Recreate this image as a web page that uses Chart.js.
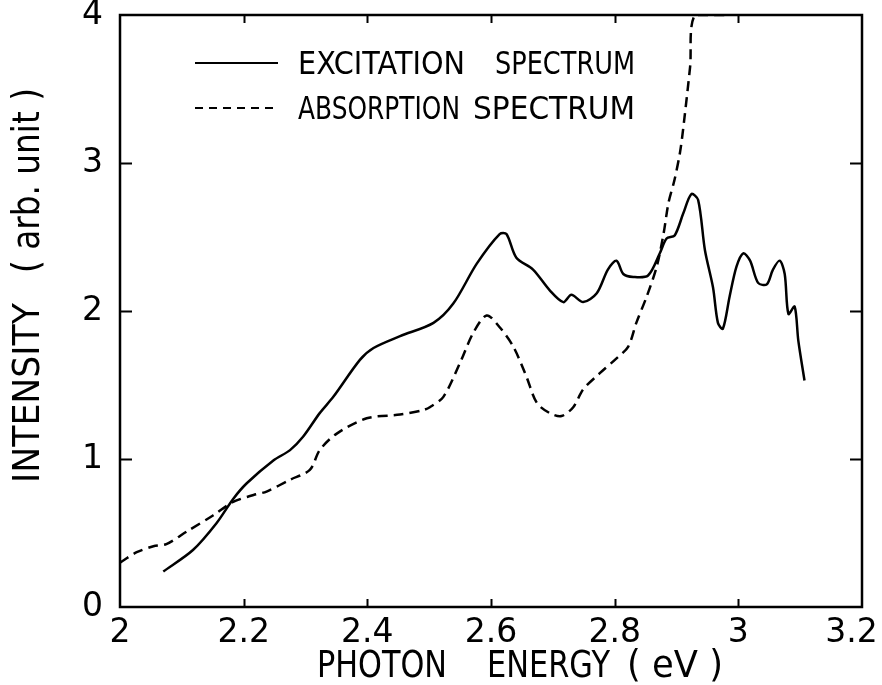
<!DOCTYPE html>
<html>
<head>
<meta charset="utf-8">
<script src="https://cdn.jsdelivr.net/npm/chart.js@4.4.1/dist/chart.umd.min.js"></script>
<style>
html,body{margin:0;padding:0;background:#fff;}
#wrap{width:882px;height:685px;position:relative;}
</style>
</head>
<body>
<div id="wrap"><canvas id="c"></canvas></div>
<script>
// ---- data ----
const excitationE = [2.070, 2.118, 2.156, 2.183, 2.205, 2.248, 2.275, 2.296, 2.323, 2.345, 2.388, 2.410, 2.453, 2.507, 2.539, 2.577, 2.614, 2.625, 2.641, 2.668, 2.695, 2.717, 2.730, 2.749, 2.771, 2.789, 2.803, 2.814, 2.830, 2.854, 2.873, 2.884, 2.897, 2.911, 2.924, 2.935, 2.946, 2.959, 2.967, 2.975, 2.986, 2.997, 3.008, 3.019, 3.032, 3.046, 3.056, 3.067, 3.075, 3.081, 3.091, 3.097, 3.107];
const excitationI = [0.24, 0.385, 0.566, 0.73, 0.836, 0.99, 1.06, 1.15, 1.31, 1.42, 1.67, 1.75, 1.83, 1.92, 2.05, 2.32, 2.52, 2.52, 2.36, 2.28, 2.14, 2.06, 2.11, 2.06, 2.12, 2.28, 2.34, 2.25, 2.23, 2.24, 2.39, 2.49, 2.51, 2.66, 2.79, 2.75, 2.41, 2.16, 1.92, 1.88, 2.10, 2.30, 2.39, 2.34, 2.19, 2.18, 2.28, 2.34, 2.25, 1.98, 2.03, 1.80, 1.53];

const absorptionE = [2.000, 2.027, 2.054, 2.075, 2.108, 2.151, 2.183, 2.216, 2.237, 2.275, 2.307, 2.323, 2.350, 2.399, 2.453, 2.490, 2.501, 2.523, 2.550, 2.571, 2.593, 2.614, 2.636, 2.657, 2.674, 2.695, 2.714, 2.733, 2.749, 2.776, 2.803, 2.822, 2.835, 2.852, 2.868, 2.879, 2.887, 2.897, 2.906, 2.913, 2.922, 2.930, 2.980];
const absorptionI = [0.30, 0.37, 0.41, 0.425, 0.51, 0.62, 0.71, 0.757, 0.78, 0.86, 0.926, 1.06, 1.17, 1.275, 1.30, 1.33, 1.35, 1.42, 1.65, 1.85, 1.97, 1.89, 1.76, 1.56, 1.38, 1.31, 1.29, 1.35, 1.47, 1.58, 1.68, 1.76, 1.92, 2.10, 2.30, 2.52, 2.73, 2.89, 3.08, 3.31, 3.65, 4.0, 4.0];

const seriesLabels = ["EXCITATION SPECTRUM", "ABSORPTION SPECTRUM"];
const xTitle = "PHOTON ENERGY ( eV )";
const yTitle = "INTENSITY ( arb. unit )";
const xMin = 2, xMax = 3.2, xStep = 0.2;
const yMin = 0, yMax = 4, yStep = 1;

const FONT = '"DejaVu Sans", Arial, sans-serif';

function pts(xs, ys){ return xs.map((x,i)=>({x:x, y:ys[i]})); }

// draw a line of text as words, each word fitted into its own span
function drawSpans(ctx, words, spans, y){
  words.forEach((w, i) => {
    const s = spans[i];
    if (!s) return;
    ctx.fillText(w, (s[0] + s[1]) / 2, y, s[1] - s[0]);
  });
}

const framePlugin = {
  id: 'frame',
  afterDraw(chart){
    const ctx = chart.ctx, a = chart.chartArea;
    const xs = chart.scales.x, ys = chart.scales.y;
    ctx.save();
    ctx.strokeStyle = '#000';
    ctx.lineWidth = 2.5;
    ctx.strokeRect(a.left, a.top, a.right - a.left, a.bottom - a.top);
    ctx.lineWidth = 2;
    ctx.beginPath();
    xs.ticks.forEach(t => {
      if (t.value <= xMin + 1e-6 || t.value >= xMax - 1e-6) return;
      const px = Math.round(xs.getPixelForValue(t.value)) + 0.5;
      ctx.moveTo(px, a.bottom); ctx.lineTo(px, a.bottom - 8);
      ctx.moveTo(px, a.top); ctx.lineTo(px, a.top + 8);
    });
    ys.ticks.forEach(t => {
      if (t.value <= yMin + 1e-6 || t.value >= yMax - 1e-6) return;
      const py = Math.round(ys.getPixelForValue(t.value)) + 0.5;
      ctx.moveTo(a.left, py); ctx.lineTo(a.left + 12, py);
      ctx.moveTo(a.right, py); ctx.lineTo(a.right - 12, py);
    });
    ctx.stroke();

    // legend
    ctx.fillStyle = '#000';
    ctx.font = '32px ' + FONT;
    ctx.textBaseline = 'middle';
    ctx.textAlign = 'center';
    const rows = [
      {y:65, dash:[], spans:[[298,465],[495,635]]},
      {y:110, dash:[8,6], spans:[[298,460],[473,635]]}
    ];
    chart.data.datasets.forEach((ds, i) => {
      const r = rows[i];
      ctx.setLineDash(r.dash);
      ctx.lineWidth = 2.2;
      ctx.beginPath();
      ctx.moveTo(195, r.y - 2); ctx.lineTo(278, r.y - 2);
      ctx.stroke();
      ctx.setLineDash([]);
      drawSpans(ctx, ds.label.split(' '), r.spans, r.y + 1);
    });

    // axis titles
    ctx.font = '37px ' + FONT;
    const xw = xTitle.split(' ');
    drawSpans(ctx, [xw[0], xw[1], xw.slice(2).join(' ')],
              [[317,447],[487,610],[627,723]], 667);
    ctx.save();
    ctx.translate(29, 685);
    ctx.rotate(-Math.PI/2);
    const yw = yTitle.split(' ');
    drawSpans(ctx, [yw[0], yw.slice(1).join(' ')],
              [[685-483, 685-303],[685-273, 685-88]], 0);
    ctx.restore();
    ctx.restore();
  }
};

new Chart(document.getElementById('c'), {
  type: 'line',
  data: {
    datasets: [
      { label: seriesLabels[0], data: pts(excitationE, excitationI),
        borderColor:'#000', borderWidth:2.5, pointRadius:0, tension:0.3, fill:false },
      { label: seriesLabels[1], data: pts(absorptionE, absorptionI),
        borderColor:'#000', borderWidth:2.5, borderDash:[10,6], pointRadius:0, tension:0.3, fill:false }
    ]
  },
  options: {
    responsive: true,
    maintainAspectRatio: false,
    animation: false,
    events: [],
    layout: { padding: { top: 15, right: 20, left: 0, bottom: 0 } },
    plugins: { legend: { display:false }, tooltip: { enabled:false }, title: { display:false } },
    scales: {
      x: {
        type: 'linear', min: xMin, max: xMax,
        grid: { display:false },
        border: { display:false },
        ticks: { stepSize: xStep, color:'#000', padding: 2,
                 font: { family: FONT, size: 33, lineHeight: 1 },
                 maxRotation: 0, autoSkip: false,
                 // the last label sits inside the page edge, as in the reference
                 callback: v => String(+v.toFixed(1)) + (v >= xMax - 1e-6 ? '\u00a0\u00a0' : '') },
        afterFit: s => { s.height = 78; s.paddingLeft = 0; s.paddingRight = 0; }
      },
      y: {
        type: 'linear', min: yMin, max: yMax,
        grid: { display:false },
        border: { display:false },
        ticks: { stepSize: yStep, color:'#000', padding: 9,
                 font: { family: FONT, size: 33 },
                 callback: v => String(v) },
        afterFit: s => { s.width = 120; s.paddingTop = 0; s.paddingBottom = 0; }
      }
    }
  },
  plugins: [framePlugin]
});
</script>
</body>
</html>
